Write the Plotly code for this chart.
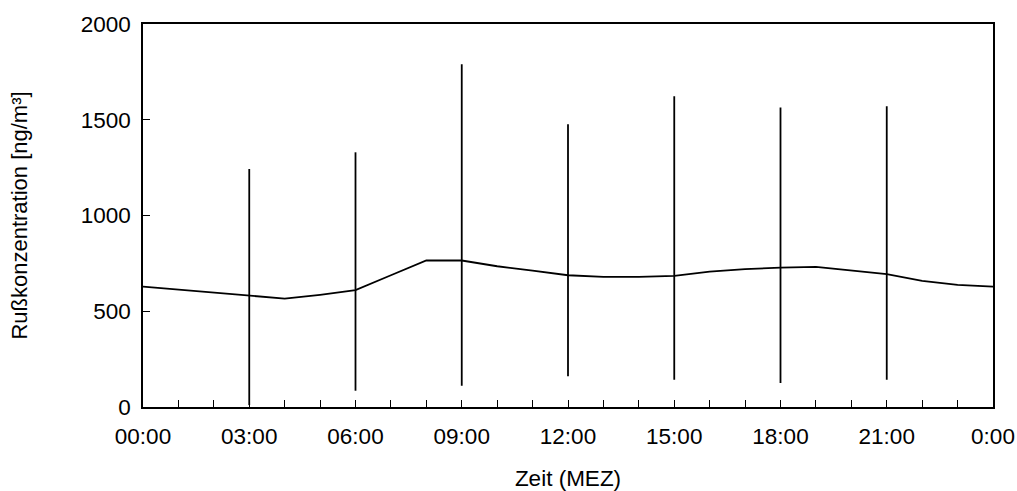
import plotly.graph_objects as go

# Hourly mean soot concentration (ng/m³), hours 0..24
hours = list(range(25))
mean_conc = [629, 613, 597, 580, 566, 586, 610, 688, 765, 765, 735, 712, 688,
             680, 680, 685, 707, 720, 728, 732, 714, 694, 659, 638, 629]

# Range bars every 3 hours
bar_hours = [3, 6, 9, 12, 15, 18, 21]
bar_low = [10, 85, 111, 160, 142, 125, 142]
bar_high = [1243, 1330, 1790, 1476, 1623, 1564, 1571]

tick_vals = [0, 3, 6, 9, 12, 15, 18, 21, 24]
tick_text = ["00:00", "03:00", "06:00", "09:00", "12:00", "15:00", "18:00", "21:00", "0:00"]

bx, by = [], []
for h, lo, hi in zip(bar_hours, bar_low, bar_high):
    bx += [h, h, None]
    by += [lo, hi, None]

fig = go.Figure()
fig.add_trace(go.Scatter(x=bx, y=by, mode="lines",
                         line=dict(color="black", width=1.8), showlegend=False))
fig.add_trace(go.Scatter(x=hours, y=mean_conc, mode="lines",
                         line=dict(color="black", width=1.8), showlegend=False))

font = dict(family="Liberation Sans, Arial, sans-serif", size=22, color="black")
tfont = dict(family="Liberation Sans, Arial, sans-serif", size=22.5, color="black")

fig.update_layout(
    width=1017, height=491,
    margin=dict(l=143, r=24, t=24, b=84),
    paper_bgcolor="white", plot_bgcolor="white",
    font=font,
    showlegend=False,
)
fig.update_xaxes(
    range=[0, 24], tickvals=tick_vals, ticktext=tick_text,
    ticks="inside", ticklen=7, tickwidth=1, tickcolor="black",
    minor=dict(dtick=1, tick0=0, ticks="inside", ticklen=7, tickwidth=1, tickcolor="black"),
    showline=True, linecolor="black", linewidth=1.5, mirror=True,
    showgrid=False, zeroline=False, automargin=False,
    ticklabelstandoff=8,
    title=dict(text="Zeit (MEZ)", standoff=37, font=dict(font, size=22.5)),
    tickfont=tfont,
)
fig.update_yaxes(
    range=[0, 2000], tickvals=[0, 500, 1000, 1500, 2000],
    ticks="inside", ticklen=7, tickwidth=1, tickcolor="black",
    showline=True, linecolor="black", linewidth=1.5, mirror=True,
    showgrid=False, zeroline=False, automargin=False,
    ticklabelstandoff=6,
    title=dict(text="Rußkonzentration [ng/m³]", standoff=47, font=font),
    tickfont=tfont,
)

fig.write_html("out.html")
